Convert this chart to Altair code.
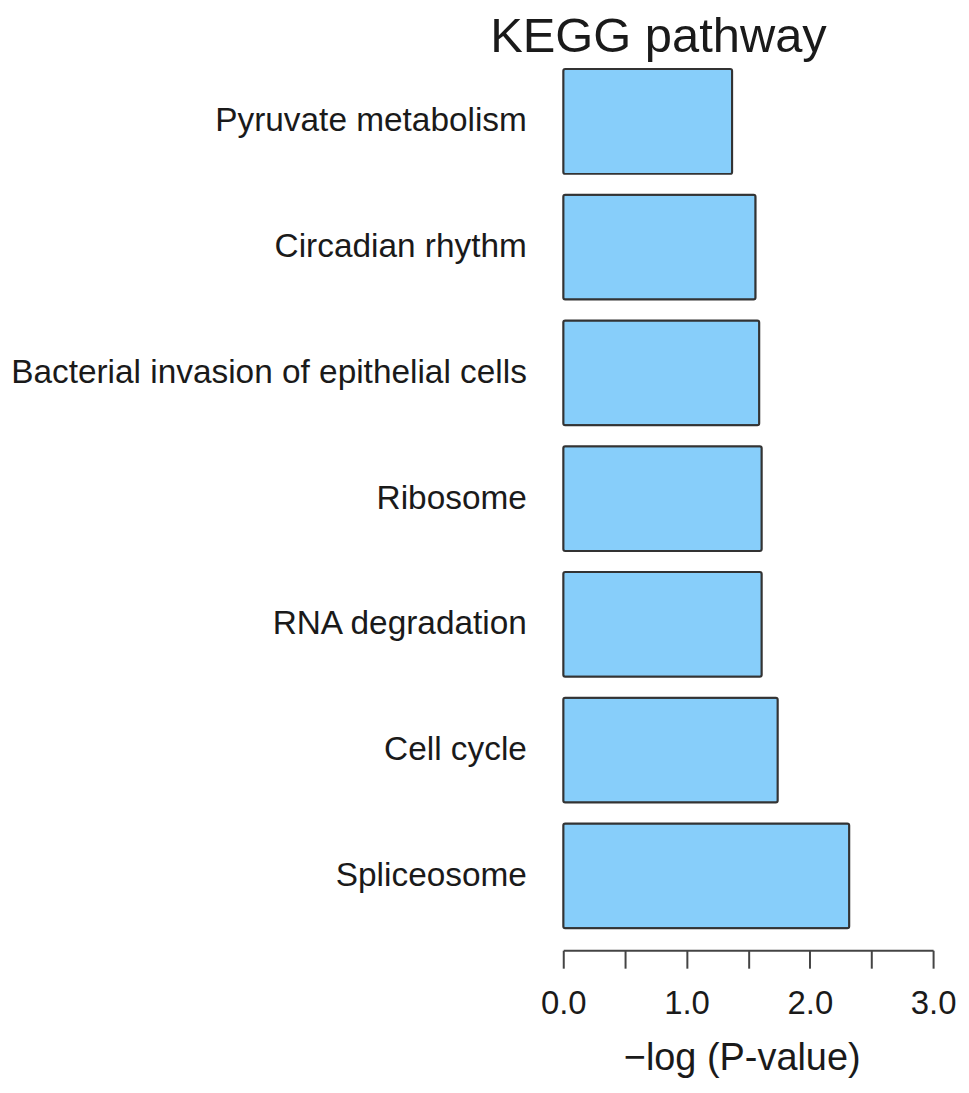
import altair as alt
import pandas as pd

pathways = [
    "Pyruvate metabolism",
    "Circadian rhythm",
    "Bacterial invasion of epithelial cells",
    "Ribosome",
    "RNA degradation",
    "Cell cycle",
    "Spliceosome",
]
neg_log_p = [1.37, 1.56, 1.59, 1.61, 1.61, 1.74, 2.32]
x_ticks = [0.0, 0.5, 1.0, 1.5, 2.0, 2.5, 3.0]

df = pd.DataFrame({"pathway": pathways, "value": neg_log_p})

chart = (
    alt.Chart(df)
    .mark_bar(
        color="#87CEFA",
        stroke="#333333",
        strokeWidth=2,
        cornerRadius=2,
    )
    .encode(
        y=alt.Y(
            "pathway:N",
            sort=pathways,
            title=None,
            scale=alt.Scale(paddingInner=0.1667, paddingOuter=0.1),
            axis=alt.Axis(
                domain=False,
                ticks=False,
                labelPadding=37,
                labelFontSize=33.5,
                labelFont="Liberation Sans",
                labelColor="#1a1a1a",
                labelLimit=900,
            ),
        ),
        x=alt.X(
            "value:Q",
            title="\u2212log (P-value)",
            scale=alt.Scale(domain=[0, 3], nice=False, zero=True),
            axis=alt.Axis(
                values=x_ticks,
                labelExpr="datum.value % 1 === 0 ? format(datum.value, '.1f') : ''",
                grid=False,
                offset=9.5,
                domainColor="#444444",
                domainWidth=2,
                tickColor="#444444",
                tickWidth=2,
                tickSize=18,
                labelPadding=19,
                labelFontSize=33,
                labelFont="Liberation Sans",
                labelColor="#1a1a1a",
                labelFlush=False,
                titleFontSize=38,
                titleFont="Liberation Sans",
                titleFontWeight="normal",
                titleColor="#1a1a1a",
                titleBaseline="alphabetic",
                titleY=120,
                titleX=179,
            ),
        ),
    )
    .properties(
        width=371,
        height=887,
        padding={"left": 2, "top": 3, "right": 5, "bottom": 5},
        title=alt.TitleParams(
            "KEGG pathway",
            fontSize=49,
            font="Liberation Sans",
            fontWeight="normal",
            color="#1a1a1a",
            anchor="middle",
            dx=-90,
            offset=-5,
        ),
    )
    .configure_view(stroke=None)
)

chart.save("out.html", embed_options={"renderer": "svg", "actions": False})
